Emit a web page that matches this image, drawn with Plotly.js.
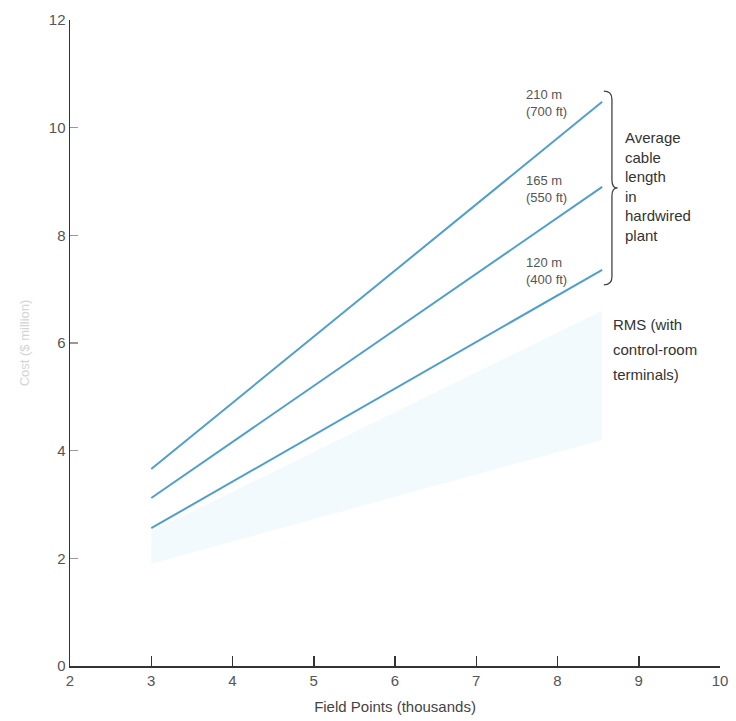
<!DOCTYPE html>
<html>
<head>
<meta charset="utf-8">
<script src="https://cdn.plot.ly/plotly-3.0.1.min.js"></script>
<style>html,body{margin:0;padding:0;background:#fff;}#chart{width:736px;height:721px;}</style>
</head>
<body>
<div id="chart"></div>
<script>
// Field points (thousands)
const xStart = 3;
const xEnd = 8.55;
const fieldPoints = [xStart, xEnd];
// Hardwired plant cost ($ million) by average cable length
const cost210m = [3.66, 10.48];
const cost165m = [3.12, 8.90];
const cost120m = [2.56, 7.36];
// RMS (with control-room terminals) band
const rmsLow = [1.9, 4.2];
const rmsHigh = [2.5, 6.6];
const cableLabels = ["210 m<br>(700 ft)", "165 m<br>(550 ft)", "120 m<br>(400 ft)"];
const xTicks = [2, 3, 4, 5, 6, 7, 8, 9, 10];
const yTicks = [0, 2, 4, 6, 8, 10, 12];

const lineColor = '#4f9fcb';
const font = 'Liberation Sans, Arial, sans-serif';

const traces = [
  {x: fieldPoints, y: rmsLow, mode: 'lines', line: {width: 0, color: 'rgba(0,0,0,0)'}, hoverinfo: 'skip', showlegend: false},
  {x: fieldPoints, y: rmsHigh, mode: 'lines', line: {width: 0, color: 'rgba(0,0,0,0)'}, fill: 'tonexty', fillcolor: 'rgba(214,238,249,0.32)', hoverinfo: 'skip', showlegend: false},
  {x: fieldPoints, y: cost210m, mode: 'lines', line: {color: lineColor, width: 2}, showlegend: false},
  {x: fieldPoints, y: cost165m, mode: 'lines', line: {color: lineColor, width: 2}, showlegend: false},
  {x: fieldPoints, y: cost120m, mode: 'lines', line: {color: lineColor, width: 2}, showlegend: false}
];

const ends = [cost210m[1], cost165m[1], cost120m[1]];
const annotations = cableLabels.map((t, i) => ({
  x: 7.86, y: ends[i] - 0.03, xref: 'x', yref: 'y', text: t, showarrow: false,
  xanchor: 'center', yanchor: 'middle', align: 'left',
  font: {family: font, size: 13, color: '#555'}
}));
annotations.push({
  x: 8.81, y: 8.9, xref: 'x', yref: 'y', showarrow: false, xanchor: 'left', yanchor: 'middle', align: 'left',
  text: 'Average<br>cable<br>length<br>in<br>hardwired<br>plant',
  font: {family: font, size: 15, color: '#333'}
});
['RMS (with', 'control-room', 'terminals)'].forEach((t, i) => {
  annotations.push({
    x: 8.66, y: 6.35 - i * 0.47, xref: 'x', yref: 'y', showarrow: false, xanchor: 'left', yanchor: 'middle',
    text: t, font: {family: font, size: 15, color: '#333'}
  });
});

// Brace spanning the three hardwired lines
const bTop = 10.68, bBot = 7.08, bMid = (bTop + bBot) / 2;
const xl = 8.57, xm = 8.67, xr = 8.74, r = 0.15;
const bracePath = `M ${xl},${bTop} Q ${xm},${bTop} ${xm},${bTop - r} L ${xm},${bMid + r} Q ${xm},${bMid} ${xr},${bMid} Q ${xm},${bMid} ${xm},${bMid - r} L ${xm},${bBot + r} Q ${xm},${bBot} ${xl},${bBot}`;

const layout = {
  width: 736, height: 721,
  margin: {l: 70, r: 16, t: 20, b: 55},
  paper_bgcolor: '#fff', plot_bgcolor: '#fff',
  showlegend: false,
  xaxis: {
    range: [2, 10], tickvals: xTicks, ticktext: xTicks.map(String),
    showgrid: false, zeroline: false, showline: true, linecolor: '#333', linewidth: 1.5,
    ticks: 'inside', ticklen: 10, tickwidth: 1.5, tickcolor: '#333',
    tickfont: {family: font, size: 15, color: '#555'},
    title: {text: 'Field Points (thousands)', font: {family: font, size: 15, color: '#444'}, standoff: 14}
  },
  yaxis: {
    range: [0, 12], tickvals: yTicks, ticktext: yTicks.map(String),
    showgrid: false, zeroline: false, showline: true, linecolor: '#333', linewidth: 1.5,
    ticks: 'inside', ticklen: 8, tickwidth: 1.5, tickcolor: '#999',
    tickfont: {family: font, size: 15, color: '#555'},
    title: {text: 'Cost ($ million)', font: {family: font, size: 13, color: '#d4d4d4'}, standoff: 16}
  },
  shapes: [{type: 'path', xref: 'x', yref: 'y', path: bracePath, line: {color: '#444', width: 1.3}}],
  annotations: annotations
};

Plotly.newPlot('chart', traces, layout, {displayModeBar: false, staticPlot: true});
</script>
</body>
</html>
